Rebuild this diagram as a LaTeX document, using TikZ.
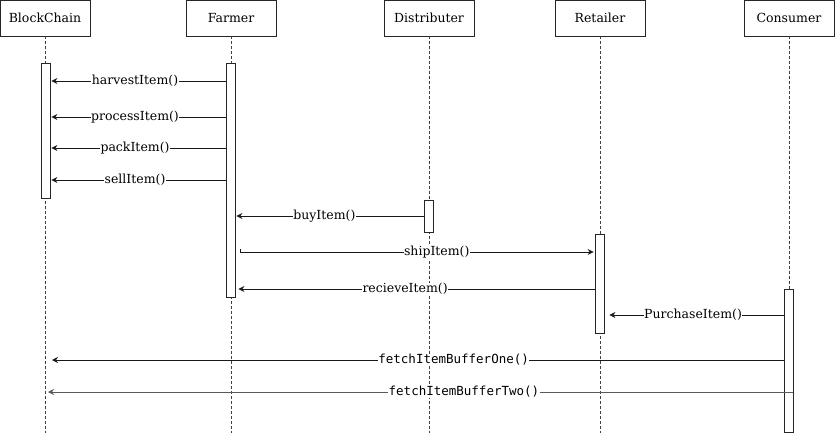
\documentclass[tikz,border=0pt]{standalone}
\usepackage{fontspec}
\setmainfont{DejaVu Serif}
\setmonofont{DejaVu Sans Mono}
\usetikzlibrary{arrows.meta}
\begin{document}
\begin{tikzpicture}[x=1pt,y=-1pt,
  actor/.style={draw=black!85, line width=0.8pt, minimum width=90pt, minimum height=36pt, inner sep=0pt, font=\fontsize{12.5}{15}\selectfont},
  life/.style={draw=black!75, dash pattern=on 3pt off 2pt, line width=0.8pt},
  act/.style={draw=black!85, fill=white, minimum width=9pt, inner sep=0pt, line width=0.8pt},
  msg/.style={draw=black!90, line width=0.8pt, -{Stealth[length=6pt,width=6pt,inset=2pt]}},
  lbl/.style={fill=white, inner sep=0.5pt, font=\fontsize{12.5}{15}\selectfont},
  mlbl/.style={lbl, font=\fontsize{12.5}{15}\ttfamily}
]
\useasboundingbox (0,0) rectangle (835,433);
% headers
\node[actor] (bc) at (45,18) {BlockChain};
\node[actor] (fa) at (231,18) {Farmer};
\node[actor] (di) at (429,18) {Distributer};
\node[actor] (re) at (600,18) {Retailer};
\node[actor] (co) at (789,18) {Consumer};
% lifeline ends
\coordinate (bcend) at (45,433);
\coordinate (faend) at (231,433);
\coordinate (diend) at (429,433);
\coordinate (reend) at (600,433);
\coordinate (coend) at (789,433);
\draw[life] (bc.south) -- (bcend);
\draw[life] (fa.south) -- (faend);
\draw[life] (di.south) -- (diend);
\draw[life] (re.south) -- (reend);
\draw[life] (co.south) -- (coend);
% activations
\node[act, minimum height=135pt] (abc) at (45.5,130.5) {};
\node[act, minimum height=234pt] (afa) at (230.5,180) {};
\node[act, minimum height=32pt] (adi) at (428.5,216) {};
\node[act, minimum height=99pt] (are) at (599.5,283.5) {};
\node[act, minimum height=143pt] (aco) at (788.5,360.5) {};
% messages
\draw[msg] (afa.west |- 0,81) -- node[lbl, pos=0.52] {harvestItem()} ([xshift=1pt]abc.east |- 0,81);
\draw[msg] (afa.west |- 0,117) -- node[lbl, pos=0.52] {processItem()} ([xshift=1pt]abc.east |- 0,117);
\draw[msg] (afa.west |- 0,148) -- node[lbl, pos=0.52] {packItem()} ([xshift=1pt]abc.east |- 0,148);
\draw[msg] (afa.west |- 0,180) -- node[lbl, pos=0.52] {sellItem()} ([xshift=1pt]abc.east |- 0,180);
\draw[msg] (adi.west |- 0,216) -- node[lbl, pos=0.53] {buyItem()} ([xshift=1pt]afa.east |- 0,216);
\draw[msg] ([xshift=5pt]afa.east |- 0,249) -- ++(0,3) -- node[lbl, pos=0.556] {shipItem()} ([xshift=-1pt]are.west |- 0,252);
\draw[msg] (are.west |- 0,289) -- node[lbl, pos=0.532] {recieveItem()} ([xshift=3pt]afa.east |- 0,289);
\draw[msg] (aco.west |- 0,315) -- node[lbl, pos=0.52] {PurchaseItem()} ([xshift=5pt]are.east |- 0,315);
\draw[msg] (aco.west |- 0,360) -- node[mlbl, pos=0.451] {fetchItemBufferOne()} ([xshift=7pt]bcend |- 0,360);
\draw[msg, draw=black!65] (aco.east |- 0,392) -- node[mlbl, pos=0.442] {fetchItemBufferTwo()} ([xshift=3pt]bcend |- 0,392);
\end{tikzpicture}
\end{document}
